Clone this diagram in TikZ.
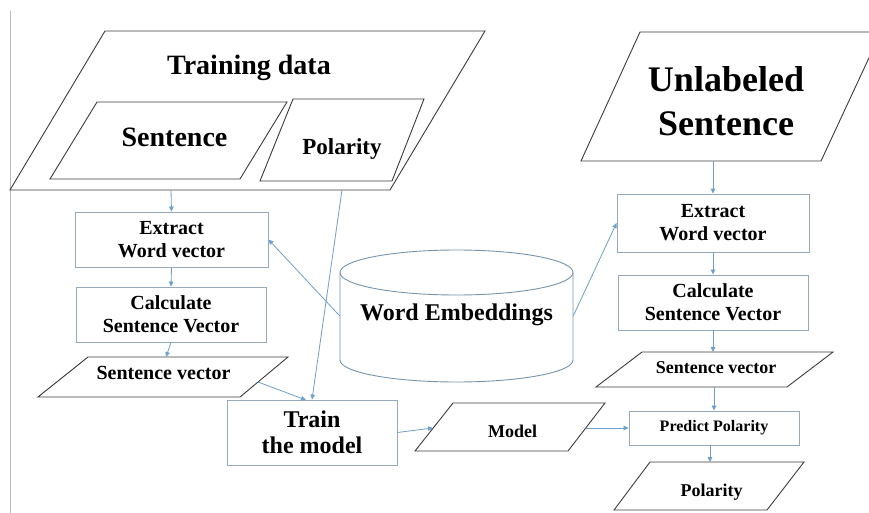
\documentclass[tikz,border=0pt]{standalone}
\usepackage{fontspec}
\newfontfamily\diagramfont{LiberationSerif-Bold.ttf}
\usetikzlibrary{arrows.meta}
\definecolor{boxline}{RGB}{150,170,188}
\definecolor{storeline}{RGB}{120,148,170}
\definecolor{flow}{RGB}{110,160,205}
\definecolor{paraline}{RGB}{60,60,60}
\definecolor{frameline}{RGB}{185,185,185}
\newcommand\fsz[2]{\fontsize{#1pt}{#2pt}\diagramfont\selectfont}
\tikzset{
  stepbox/.style={draw=boxline, line width=0.9pt, align=center, inner sep=0pt, fill=white},
  paraedge/.style={draw=paraline, line width=0.9pt, line join=miter},
  flowarrow/.style={draw=flow, line width=0.8pt, -{Triangle[length=5pt,width=4.5pt]}},
  plaintext/.style={anchor=base, inner sep=0pt},
}
\begin{document}
\begin{tikzpicture}[x=1pt,y=-1pt]
\useasboundingbox (0,0) rectangle (869,513);
\clip (0,0) rectangle (869,513);
\fill[white] (0,0) rectangle (869,513);

% thin frame rule on the left
\draw[frameline, line width=0.8pt] (10,11) -- (10,513);

% ---- training data block ----
\draw[paraedge] (105,31) -- (485,31) -- (390,190) -- (10,190) -- cycle;
\node[plaintext, font=\fsz{28}{32}] (tdtext) at (249,75) {Training data};
\draw[paraedge] (97,102) -- (287,102) -- (240,179) -- (50,179) -- cycle;
\node[plaintext, font=\fsz{28}{32}] (senttext) at (174.5,147) {Sentence};
\draw[paraedge] (293,99) -- (424,99) -- (392,181) -- (260,181) -- cycle;
\node[plaintext, font=\fsz{23}{26}] (poltext) at (342,155) {Polarity};
\coordinate (td-sent) at (171,190);
\coordinate (td-pol) at (342,190);

% ---- training pipeline ----
\node[stepbox, minimum width=193pt, minimum height=55pt, font=\fsz{20}{23}] (exL) at (171.5,239.5) {Extract\\Word vector};
\node[stepbox, minimum width=190pt, minimum height=55pt, font=\fsz{20}{23}] (calcL) at (171,314.5) {Calculate\\Sentence Vector};
\draw[paraedge] (88,357) -- (288,357) -- (240,397) -- (38,397) -- cycle;
\node[plaintext, font=\fsz{20}{23}] (svLtext) at (163.5,379) {Sentence vector};
\coordinate (svL-top) at (166,357);
\coordinate (svL-out) at (258,382);
\node[stepbox, minimum width=170pt, minimum height=65pt, font=\fsz{24}{26}] (train) at (312,432.5) {Train\\the model};
\coordinate (train-in) at (306,400);

% ---- model ----
\draw[paraedge] (453,403) -- (605,403) -- (568,451) -- (415,451) -- cycle;
\node[plaintext, font=\fsz{18}{20}] (modeltext) at (512.5,437) {Model};
\coordinate (model-in) at (433,428);
\coordinate (model-out) at (586,428);

% ---- word embeddings store ----
\draw[storeline, line width=0.9pt, fill=white] (340,272.5) -- (340,360)
  arc[start angle=180, end angle=360, x radius=116.5pt, y radius=22pt] -- (573,272.5);
\draw[storeline, line width=0.9pt] (456.5,272.5) ellipse [x radius=116.5pt, y radius=22.5pt];
\node[inner sep=0pt, minimum width=233pt, minimum height=132pt] (we) at (456.5,316) {};
\node[plaintext, font=\fsz{24}{26}] (wetext) at (456.5,320) {Word Embeddings};

% ---- prediction pipeline ----
\draw[paraedge] (640,32) -- (881,32) -- (821,161) -- (581,161) -- cycle;
\node[align=center, inner sep=0pt, font=\fsz{36}{44}] (unltext) at (726,101.5) {Unlabeled\\Sentence};
\coordinate (unl-out) at (713,161);
\node[stepbox, minimum width=192pt, minimum height=58pt, font=\fsz{20}{23}] (exR) at (713,223) {Extract\\Word vector};
\node[stepbox, minimum width=190pt, minimum height=55pt, font=\fsz{20}{23}] (calcR) at (713,302.5) {Calculate\\Sentence Vector};
\draw[paraedge] (642,352) -- (833,352) -- (787,387) -- (596,387) -- cycle;
\node[plaintext, font=\fsz{18}{20}] (svRtext) at (716,373) {Sentence vector};
\coordinate (svR-top) at (713,352);
\coordinate (svR-bot) at (714,387);
\node[stepbox, minimum width=170pt, minimum height=34pt, font=\fsz{16}{18}] (pred) at (714,428) {Predict Polarity};
\draw[paraedge] (650,462) -- (804,462) -- (767,510) -- (614,510) -- cycle;
\node[plaintext, font=\fsz{18}{20}] (polRtext) at (711.5,496) {Polarity};
\coordinate (polR-top) at (710,462);

% ---- connectors ----
\draw[flowarrow] (td-sent) -- (exL.north);
\draw[flowarrow] (td-pol) -- (train.north);
\draw[flowarrow] (exL.south) -- (calcL.north);
\draw[flowarrow] (calcL.south) -- (svL-top);
\draw[flowarrow] (svL-out) -- (train-in);
\draw[flowarrow] (we.west) -- (exL.east);
\draw[flowarrow] (we.east) -- (exR.west);
\draw[flowarrow] (train.east) -- (model-in);
\draw[flowarrow] (model-out) -- (pred.west);
\draw[flowarrow] (unl-out) -- (exR.north);
\draw[flowarrow] (exR.south) -- (calcR.north);
\draw[flowarrow] (calcR.south) -- (svR-top);
\draw[flowarrow] (svR-bot) -- (pred.north);
\draw[flowarrow] ([xshift=-4pt]pred.south) -- (polR-top);
\end{tikzpicture}
\end{document}
